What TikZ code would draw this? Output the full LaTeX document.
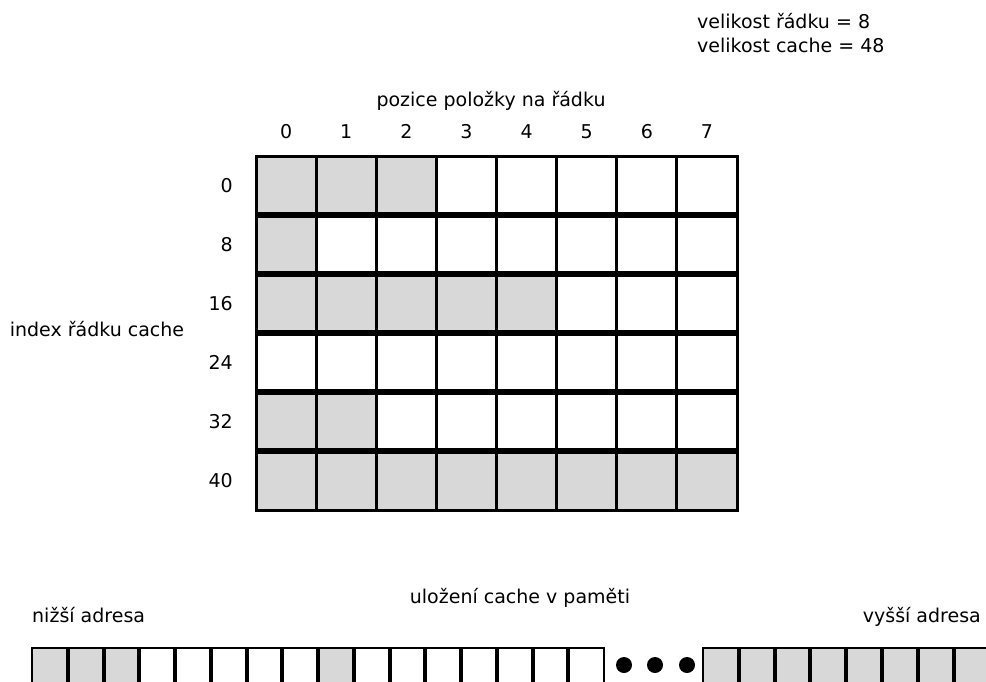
\documentclass[tikz,border=0pt]{standalone}
\usepackage{fontspec}
\setmainfont{DejaVu Sans}
\definecolor{cellgray}{RGB}{216,216,216}
\begin{document}
\begin{tikzpicture}[x=1pt,y=-1pt,
  txt/.style={inner sep=0pt, font=\fontsize{19}{22}\selectfont},
  gridcell/.style={draw=black, line width=3pt, fill=#1},
  rowsep/.style={draw=black, line width=5.5pt},
  memcell/.style={draw=black, line width=2.4pt, fill=#1},
  memsep/.style={draw=black, line width=4pt},
  dot/.style={fill=black}]
\useasboundingbox (0,0) rectangle (986,681);
\clip (0,0) rectangle (986,681);
\fill[white] (0,0) rectangle (986,681);

% info text
\node[txt, anchor=base west] (rowsize) at (697,28) {velikost řádku = 8};
\node[txt, anchor=base west] (cachesize) at (697,52) {velikost cache = 48};

% column header
\node[txt, anchor=base] (colhead) at (491,106) {pozice položky na řádku};
\foreach \c in {0,...,7}{
  \node[txt, anchor=base] (col\c) at ({256+60.125*(\c+0.5)},138) {\c};
}

% row labels
\node[txt, anchor=base] (rowhead) at (97,336) {index řádku cache};
\foreach \r/\lab in {0/0,1/8,2/16,3/24,4/32,5/40}{
  \node[txt, anchor=base east] (row\r) at (233,{156+59*(\r+0.5)+6.5}) {\lab};
}

% grid
\foreach \r/\n in {0/3,1/1,2/5,3/0,4/2,5/8}{
  \foreach \c in {0,...,7}{
    \ifnum\c<\n\relax\def\cellcol{cellgray}\else\def\cellcol{white}\fi
    \draw[gridcell=\cellcol] ({256+60.125*\c},{156+59*\r}) rectangle ({256+60.125*(\c+1)},{156+59*(\r+1)});
  }
}
\foreach \r in {1,...,5}{
  \draw[rowsep] (256,{156+59*\r}) -- (737,{156+59*\r});
}

% memory layout
\node[txt, anchor=base] (memhead) at (520,603.5) {uložení cache v paměti};
\node[txt, anchor=base west] (low) at (32,622) {nižší adresa};
\node[txt, anchor=base east] (high) at (981,622) {vyšší adresa};

\foreach \c in {0,...,15}{
  \ifnum\c<3\relax\def\cellcol{cellgray}\else\ifnum\c=8\relax\def\cellcol{cellgray}\else\def\cellcol{white}\fi\fi
  \draw[memcell=\cellcol] ({32+35.75*\c},648) rectangle ({32+35.75*(\c+1)},686);
}
\foreach \c in {1,...,15}{
  \draw[memsep] ({32+35.75*\c},648) -- ({32+35.75*\c},686);
}
\foreach \c in {0,...,7}{
  \draw[memcell=cellgray] ({703+35.8*\c},648) rectangle ({703+35.8*(\c+1)},686);
}
\foreach \c in {1,...,7}{
  \draw[memsep] ({703+35.8*\c},648) -- ({703+35.8*\c},686);
}
\fill[dot] (624,665) circle (8);
\fill[dot] (655,665) circle (8);
\fill[dot] (687,665) circle (8);
\end{tikzpicture}
\end{document}
